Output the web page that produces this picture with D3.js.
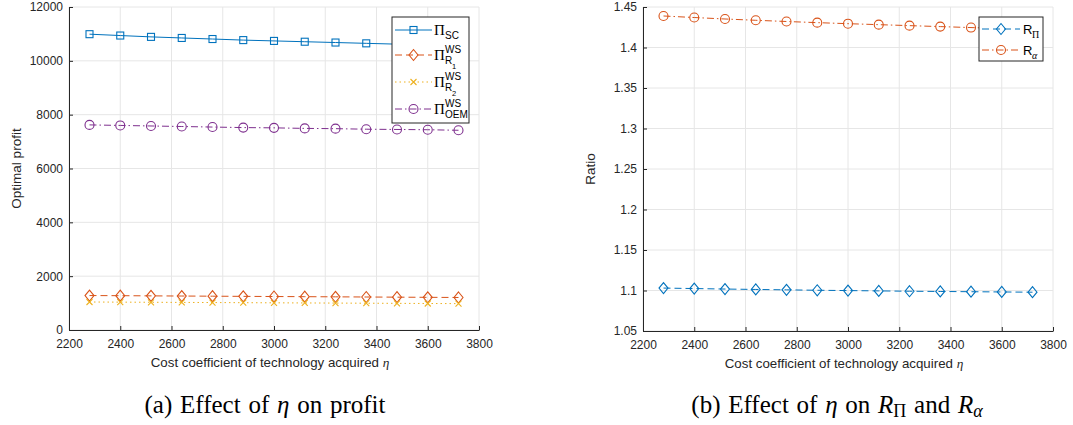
<!DOCTYPE html>
<html>
<head>
<meta charset="utf-8">
<script src="https://cdn.jsdelivr.net/npm/d3@7"></script>
<style>
  body { margin: 0; background: #fff; }
  svg { display: block; font-family: "Liberation Sans", Arial, sans-serif; }
</style>
</head>
<body>
<svg id="fig" width="1073" height="425"></svg>
<script>
// Cost coefficient of technology acquired (eta)
const eta = [2280, 2400, 2520, 2640, 2760, 2880, 3000, 3120, 3240, 3360, 3480, 3600, 3720];

// Panel (a): optimal profits
const profitSC  = [10990, 10940, 10890, 10850, 10810, 10770, 10740, 10710, 10680, 10650, 10620, 10600, 10570];
const profitR1  = [1280, 1275, 1268, 1262, 1256, 1250, 1244, 1238, 1232, 1226, 1220, 1214, 1208];
const profitR2  = [1040, 1035, 1030, 1025, 1020, 1015, 1010, 1005, 1000, 995, 990, 985, 980];
const profitOEM = [7620, 7600, 7580, 7560, 7540, 7520, 7510, 7490, 7480, 7460, 7450, 7440, 7420];

// Panel (b): ratios
const ratioPi    = [1.1030, 1.1024, 1.1018, 1.1013, 1.1008, 1.1003, 1.0999, 1.0995, 1.0991, 1.0988, 1.0985, 1.0982, 1.0979];
const ratioAlpha = [1.4389, 1.4370, 1.4352, 1.4336, 1.4321, 1.4307, 1.4294, 1.4282, 1.4270, 1.4258, 1.4246, 1.4235, 1.4225];

const xTicks = [2200, 2400, 2600, 2800, 3000, 3200, 3400, 3600, 3800];
const yTicksA = [0, 2000, 4000, 6000, 8000, 10000, 12000];
const yTicksB = [1.05, 1.1, 1.15, 1.2, 1.25, 1.3, 1.35, 1.4, 1.45];

const C = { blue: "#0072BD", orange: "#D95319", yellow: "#EDB120", purple: "#7E2F8E" };
const svg = d3.select("#fig");

function marker(g, type, x, y, color) {
  if (type === "square") {
    g.append("rect").attr("x", x - 3.5).attr("y", y - 3.5).attr("width", 7).attr("height", 7)
      .attr("fill", "none").attr("stroke", color).attr("stroke-width", 1.1);
  } else if (type === "circle") {
    g.append("circle").attr("cx", x).attr("cy", y).attr("r", 4.5)
      .attr("fill", "none").attr("stroke", color).attr("stroke-width", 1.1);
  } else if (type === "diamond") {
    g.append("path").attr("d", `M${x},${y - 5.5}L${x + 4.5},${y}L${x},${y + 5.5}L${x - 4.5},${y}Z`)
      .attr("fill", "none").attr("stroke", color).attr("stroke-width", 1.1);
  } else if (type === "x") {
    g.append("path").attr("d", `M${x - 3},${y - 3}L${x + 3},${y + 3}M${x - 3},${y + 3}L${x + 3},${y - 3}`)
      .attr("fill", "none").attr("stroke", color).attr("stroke-width", 1.1);
  }
}

const dashes = { solid: null, dash: "7,4", dot: "1.5,3", dashdot: "7,3,1.5,3" };

function panel(opts) {
  const g = svg.append("g");
  const x = d3.scaleLinear().domain([2200, 3800]).range([opts.left, opts.left + 410]);
  const y = d3.scaleLinear().domain(opts.yDomain).range([opts.bottom, 7]);

  // grid
  g.append("g").selectAll("line").data(xTicks).join("line")
    .attr("x1", d => x(d)).attr("x2", d => x(d)).attr("y1", y.range()[0]).attr("y2", y.range()[1])
    .attr("stroke", "#e6e6e6").attr("stroke-width", 1);
  g.append("g").selectAll("line").data(opts.yTicks).join("line")
    .attr("x1", x.range()[0]).attr("x2", x.range()[1]).attr("y1", d => y(d)).attr("y2", d => y(d))
    .attr("stroke", "#e6e6e6").attr("stroke-width", 1);

  // axes (ticks point inward)
  const xa = g.append("g").attr("transform", `translate(0,${opts.bottom})`)
    .call(d3.axisBottom(x).tickValues(xTicks).tickSizeInner(-4).tickSizeOuter(0).tickPadding(9).tickFormat(d3.format("d")));
  const ya = g.append("g").attr("transform", `translate(${opts.left},0)`)
    .call(d3.axisLeft(y).tickValues(opts.yTicks).tickSizeInner(-4).tickSizeOuter(0).tickPadding(6).tickFormat(opts.yFmt));
  [xa, ya].forEach(a => {
    a.select(".domain").attr("stroke", "#262626");
    a.selectAll(".tick line").attr("stroke", "#262626");
    a.selectAll("text").attr("fill", "#262626").attr("font-size", 12)
      .attr("font-family", "Liberation Sans, Arial, sans-serif");
  });

  // axis labels
  const xl = g.append("text").attr("x", opts.left + 201).attr("y", opts.bottom + 37)
    .attr("text-anchor", "middle").attr("font-size", 13.3).attr("fill", "#262626");
  xl.append("tspan").text("Cost coefficient of technology acquired ");
  xl.append("tspan").attr("font-family", "Liberation Serif, serif").attr("font-style", "italic").text("η");
  g.append("text").attr("transform", `translate(${opts.left - 48},${(opts.bottom + 7) / 2}) rotate(-90)`)
    .attr("text-anchor", "middle").attr("font-size", 13.5).attr("fill", "#262626").text(opts.yLabel);

  // series
  const line = d3.line().x((d, i) => x(eta[i])).y(d => y(d));
  opts.series.forEach(s => {
    g.append("path").datum(s.values).attr("d", line).attr("fill", "none")
      .attr("stroke", s.color).attr("stroke-width", 1).attr("stroke-dasharray", dashes[s.style]);
    const mg = g.append("g");
    s.values.forEach((v, i) => marker(mg, s.marker, x(eta[i]), y(v), s.color));
  });
  return { g, x, y };
}

// Panel (a)
const pa = panel({
  left: 69, bottom: 330, yDomain: [0, 12000], yTicks: yTicksA, yFmt: d3.format("d"), yLabel: "Optimal profit",
  series: [
    { values: profitSC, color: C.blue, style: "solid", marker: "square" },
    { values: profitR1, color: C.orange, style: "dash", marker: "diamond" },
    { values: profitR2, color: C.yellow, style: "dot", marker: "x" },
    { values: profitOEM, color: C.purple, style: "dashdot", marker: "circle" }
  ]
});

// Panel (b)
const pb = panel({
  left: 643, bottom: 331, yDomain: [1.05, 1.45], yTicks: yTicksB, yFmt: d => String(+d.toFixed(2)), yLabel: "Ratio",
  series: [
    { values: ratioPi, color: C.blue, style: "dash", marker: "diamond" },
    { values: ratioAlpha, color: C.orange, style: "dashdot", marker: "circle" }
  ]
});

// Legend for panel (a)
(function () {
  const g = svg.append("g");
  g.append("rect").attr("x", 392).attr("y", 17).attr("width", 77).attr("height", 106)
    .attr("fill", "#fff").attr("stroke", "#262626").attr("stroke-width", 1);
  const items = [
    { y: 30, color: C.blue, style: "solid", marker: "square", sub: "SC", sup: null, subsub: null },
    { y: 55, color: C.orange, style: "dash", marker: "diamond", sub: "R", sup: "WS", subsub: "1" },
    { y: 82, color: C.yellow, style: "dot", marker: "x", sub: "R", sup: "WS", subsub: "2" },
    { y: 109, color: C.purple, style: "dashdot", marker: "circle", sub: "OEM", sup: "WS", subsub: null }
  ];
  items.forEach(it => {
    g.append("line").attr("x1", 395).attr("x2", 432).attr("y1", it.y).attr("y2", it.y)
      .attr("stroke", it.color).attr("stroke-width", 1).attr("stroke-dasharray", dashes[it.style]);
    marker(g, it.marker, 413.5, it.y, it.color);
    g.append("text").attr("x", 434).attr("y", it.y + 5).attr("font-family", "Liberation Serif, serif")
      .attr("font-size", 15).attr("fill", "#000").text("Π");
    if (it.sup) g.append("text").attr("x", 445).attr("y", it.y - 2).attr("font-size", 10).attr("fill", "#000").text(it.sup);
    g.append("text").attr("x", 445).attr("y", it.y + 9).attr("font-size", 10).attr("fill", "#000").text(it.sub);
    if (it.subsub) g.append("text").attr("x", 452).attr("y", it.y + 14).attr("font-size", 7.5).attr("fill", "#000").text(it.subsub);
  });
})();

// Legend for panel (b)
(function () {
  const g = svg.append("g");
  g.append("rect").attr("x", 979).attr("y", 17).attr("width", 64).attr("height", 44)
    .attr("fill", "#fff").attr("stroke", "#262626").attr("stroke-width", 1);
  const items = [
    { y: 29, color: C.blue, style: "dash", marker: "diamond", sub: "Π" },
    { y: 50, color: C.orange, style: "dashdot", marker: "circle", sub: "α" }
  ];
  items.forEach(it => {
    g.append("line").attr("x1", 982).attr("x2", 1020).attr("y1", it.y).attr("y2", it.y)
      .attr("stroke", it.color).attr("stroke-width", 1).attr("stroke-dasharray", dashes[it.style]);
    marker(g, it.marker, 1001, it.y, it.color);
    g.append("text").attr("x", 1023).attr("y", it.y + 4.5).attr("font-size", 13).attr("fill", "#000").text("R");
    g.append("text").attr("x", 1032).attr("y", it.y + 9).attr("font-size", 10)
      .attr("font-family", "Liberation Serif, serif").attr("font-style", it.sub === "α" ? "italic" : "normal")
      .attr("fill", "#000").text(it.sub);
  });
})();

// Sub-figure captions
const capA = svg.append("text").attr("x", 265).attr("y", 413).attr("text-anchor", "middle")
  .attr("font-family", "Liberation Serif, Times New Roman, serif").attr("font-size", 25)
  .attr("word-spacing", 1.5).attr("fill", "#000");
capA.append("tspan").text("(a) Effect of ");
capA.append("tspan").attr("font-style", "italic").text("η");
capA.append("tspan").text(" on profit");

const capB = svg.append("text").attr("x", 837).attr("y", 413).attr("text-anchor", "middle")
  .attr("font-family", "Liberation Serif, Times New Roman, serif").attr("font-size", 25)
  .attr("word-spacing", 1.5).attr("fill", "#000");
capB.append("tspan").text("(b) Effect of ");
capB.append("tspan").attr("font-style", "italic").text("η");
capB.append("tspan").text(" on ");
capB.append("tspan").attr("font-style", "italic").text("R");
capB.append("tspan").attr("font-size", 18).attr("dy", 4).text("Π");
capB.append("tspan").attr("dy", -4).text(" and ");
capB.append("tspan").attr("font-style", "italic").text("R");
capB.append("tspan").attr("font-size", 18).attr("font-style", "italic").attr("dy", 4).text("α");
</script>
</body>
</html>
